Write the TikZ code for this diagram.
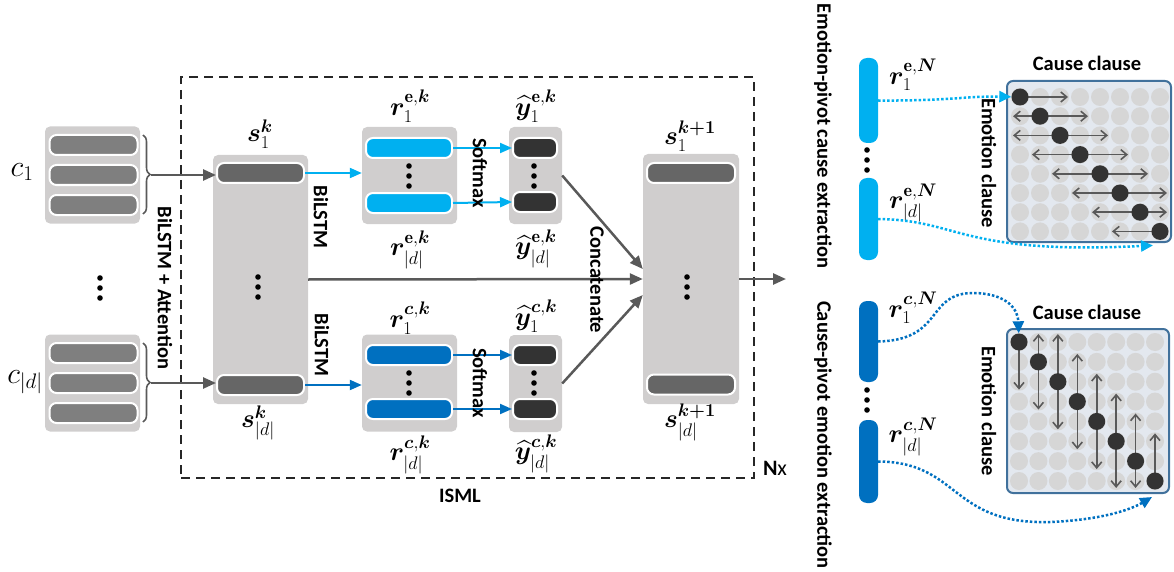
\RequirePackage{fix-cm}
\documentclass[tikz,border=0pt]{standalone}
\usepackage{amsmath,amssymb}
\usepackage{bm}
\usepackage{fontspec}
\setsansfont{Carlito}
\usepackage{xcolor}
\usepackage{tikz}
\usetikzlibrary{arrows.meta, positioning, decorations.pathreplacing}
\definecolor{blkgray}{HTML}{D0CECE}
\definecolor{cbar}{HTML}{7F7F7F}
\definecolor{sbar}{HTML}{666666}
\definecolor{ybar}{HTML}{333333}
\definecolor{lblue}{HTML}{00B0F0}
\definecolor{dblue}{HTML}{0070C0}
\definecolor{arrgray}{HTML}{595959}
\definecolor{matfill}{HTML}{E3E8EF}
\definecolor{matedge}{HTML}{41719C}
\definecolor{cellgray}{HTML}{D6D6D6}
\definecolor{dotblack}{HTML}{333333}
\newcommand{\threedots}[2]{\foreach \k in {-10,0,10} \fill ({#1},{#2+\k}) circle (2.8pt);}

\begin{document}
\begin{tikzpicture}[x=1pt, y=-1pt,
  blk/.style={fill=blkgray, rounded corners=5pt, inner sep=0pt},
  bar/.style={draw=white, line width=2pt, rounded corners=7pt, inner sep=0pt, minimum height=20pt},
  mlab/.style={font=\fontsize{26}{28}\selectfont, inner sep=0pt},
  txt/.style={font=\sffamily\bfseries\fontsize{20.5}{22}\selectfont, inner sep=0pt},
  arr/.style={draw=arrgray, line width=2.5pt, -{Triangle[length=13pt, width=11pt]}},
  barr/.style={line width=2pt, -{Triangle[length=12pt, width=10pt]}},
  pill/.style={rounded corners=8pt, inner sep=0pt, minimum width=19pt},
  bigdot/.style={circle, fill=dotblack, inner sep=0pt, minimum size=17pt},
  marr/.style={draw=arrgray, line width=1.6pt, -{Straight Barb[length=6pt, width=10pt]}},
  dotarr/.style={line width=2.5pt, dash pattern=on 2.5pt off 2pt, -{Triangle[length=12pt, width=11pt]}}
]
\useasboundingbox (0,0) rectangle (1174,572);

% ISML box
\node[draw=black!85, line width=2.5pt, dash pattern=on 9pt off 6pt, minimum width=573pt, minimum height=401pt, inner sep=0pt] (isml) at (467.5,277.5) {};
\node[txt] (ismllab) at (460,496) {ISML};
\node[font=\sffamily\fontsize{22}{24}\selectfont, inner sep=0pt] (nx) at (775,468) {\textbf{N}x};

% clause encoder
\node[blk, minimum width=95pt, minimum height=249pt] (sblk) at (260.5,279.5) {};
\node[bar, fill=sbar, minimum width=87pt] (s1) at (260.5,173) {};
\node[bar, fill=sbar, minimum width=87pt] (sd) at (260.5,385) {};
\node[mlab] (s1lab) at (260,134) {$\bm{s}_1^{\bm{k}}$};
\node[mlab] (sdlab) at (258,423) {$\bm{s}_{|d|}^{\bm{k}}$};
\threedots{258}{287}

\foreach \g/\yc/\tgt in {1/175/s1, 2/383/sd} {
  \node[blk, minimum width=95pt, minimum height=97pt] (cg\g) at (92.5,\yc) {};
  \foreach \b/\dy in {1/-30, 2/0, 3/30}
    \node[bar, fill=cbar, minimum width=88pt] (c\g\b) at (93.5,\yc+\dy) {};
  \draw[arrgray, line width=1.6pt, decorate, decoration={brace, amplitude=7pt}] (143,\yc-40) -- (143,\yc+39);
  \coordinate (bt\g) at (151,\yc);
  \draw[arr] (bt\g) -- (bt\g -| \tgt.west);
}
\node[mlab, font=\fontsize{30}{32}\selectfont] (cl1) at (22,172) {$c_1$};
\node[mlab, font=\fontsize{30}{32}\selectfont] (cld) at (25,382) {$c_{|d|}$};
\threedots{100}{288}
\node[txt, rotate=-90] (att) at (165,288) {BiLSTM + Attention};

% emotion / cause branches
\node[blk, minimum width=95pt, minimum height=97pt] (reblk) at (409.5,175.5) {};
\node[bar, fill=lblue, minimum width=86pt] (re1) at (409,148) {};
\node[bar, fill=lblue, minimum width=86pt] (re2) at (409,203) {};
\node[mlab] (re1lab) at (410,106) {$\bm{r}_1^{\mathbf{e},\bm{k}}$};
\node[mlab] (re2lab) at (410,250) {$\bm{r}_{|d|}^{\mathbf{e},\bm{k}}$};
\threedots{409}{176}

\node[blk, minimum width=95pt, minimum height=97pt] (rcblk) at (409.5,383) {};
\node[bar, fill=dblue, minimum width=86pt] (rc1) at (409,355) {};
\node[bar, fill=dblue, minimum width=86pt] (rc2) at (409,409) {};
\node[mlab] (rc1lab) at (410,318) {$\bm{r}_1^{\bm{c},\bm{k}}$};
\node[mlab] (rc2lab) at (410,455) {$\bm{r}_{|d|}^{\bm{c},\bm{k}}$};
\threedots{409}{383}

\node[blk, minimum width=53pt, minimum height=97pt] (yeblk) at (535.5,175.5) {};
\node[bar, fill=ybar, minimum width=44pt] (ye1) at (535,148) {};
\node[bar, fill=ybar, minimum width=44pt] (ye2) at (535,202) {};
\node[mlab] (ye1lab) at (536,106) {$\widehat{\bm{y}}_1^{\mathbf{e},\bm{k}}$};
\node[mlab] (ye2lab) at (536,249) {$\widehat{\bm{y}}_{|d|}^{\mathbf{e},\bm{k}}$};
\threedots{534}{176}

\node[blk, minimum width=53pt, minimum height=97pt] (ycblk) at (535.5,383.5) {};
\node[bar, fill=ybar, minimum width=44pt] (yc1) at (535,355) {};
\node[bar, fill=ybar, minimum width=44pt] (yc2) at (535,409) {};
\node[mlab] (yc1lab) at (536,316) {$\widehat{\bm{y}}_1^{\bm{c},\bm{k}}$};
\node[mlab] (yc2lab) at (536,454) {$\widehat{\bm{y}}_{|d|}^{\bm{c},\bm{k}}$};
\threedots{534}{383}

\node[blk, minimum width=96pt, minimum height=250pt] (snblk) at (691,279) {};
\node[bar, fill=sbar, minimum width=88pt] (sn1) at (691,173) {};
\node[bar, fill=sbar, minimum width=88pt] (snd) at (691,384.5) {};
\node[mlab] (sn1lab) at (690,136) {$\bm{s}_1^{\bm{k+1}}$};
\node[mlab] (sndlab) at (690,422) {$\bm{s}_{|d|}^{\bm{k+1}}$};
\threedots{687}{287}

\draw[barr, lblue] (s1.east) -- (s1.east -| reblk.west);
\draw[barr, dblue] (sd.east) -- (sd.east -| rcblk.west);
\foreach \b in {1,2} {
  \draw[barr, lblue] (re\b.east) -- (ye\b.west);
  \draw[barr, dblue] (rc\b.east) -- (yc\b.west);
}
\draw[arr] (sblk.east) -- (snblk.west);
\draw[arr] (yeblk.east) -- ([yshift=10pt]snblk.west);
\draw[arr] (ycblk.east) -- ([yshift=-16pt]snblk.west);
\coordinate (out) at (786,279);
\draw[arr] (snblk.east) -- (out);

\node[txt, rotate=-90] (bil1) at (321,217) {BiLSTM};
\node[txt, rotate=-90] (bil2) at (322,345) {BiLSTM};
\node[txt, rotate=-90] (smx1) at (480,173) {Softmax};
\node[txt, rotate=-90] (smx2) at (480,383) {Softmax};
\node[txt, rotate=-90] (cat) at (597,280) {Concatenate};

% emotion-pivot cause extraction
\node[txt, rotate=-90] (epce) at (823,136) {Emotion-pivot cause extraction};
\node[pill, fill=lblue, minimum height=85pt] (ren1) at (868.5,100.5) {};
\node[pill, fill=lblue, minimum height=82pt] (ren2) at (868.5,219) {};
\node[mlab] (ren1lab) at (913,75) {$\bm{r}_1^{\mathbf{e},\bm{N}}$};
\node[mlab] (ren2lab) at (913,203) {$\bm{r}_{|d|}^{\mathbf{e},\bm{N}}$};
\threedots{867}{160}

\node[draw=matedge, fill=matfill, line width=2pt, rounded corners=6pt, minimum width=164pt, minimum height=161pt, inner sep=0pt] (mat1) at (1089,161.5) {};
\node[txt] (cc1) at (1087,63) {Cause clause};
\node[txt, rotate=-90] (ec1) at (989,163) {Emotion clause};
\foreach \i in {0,...,7}
  \foreach \j in {0,...,7}
    \fill[cellgray] (1020+20*\j, 97+19.2*\i) circle (9pt);
\foreach \i in {0,...,7} {
  \pgfmathsetmacro{\ey}{97+19.2*\i}
  \pgfmathsetmacro{\ex}{1020+20*\i}
  \pgfmathsetmacro{\lx}{1020+20*max(\i-2.4,-0.35)}
  \pgfmathsetmacro{\rx}{1020+20*min(\i+2.4,7.35)}
  \ifnum\i>0 \draw[marr] (\ex,\ey) -- (\lx,\ey); \fi
  \ifnum\i<7 \draw[marr] (\ex,\ey) -- (\rx,\ey); \fi
  \node[bigdot] (e\i) at (\ex,\ey) {};
}
\coordinate (e7tip) at ([xshift=-7pt,yshift=-14pt]e7.center);
\draw[dotarr, lblue] (ren1.east) .. controls (950,101) and (965,96) .. (e0);
\draw[dotarr, lblue] (ren2.east) .. controls (960,220) and (960,255) .. (e7tip);

% cause-pivot emotion extraction
\node[txt, rotate=-90] (cpee) at (823,435) {Cause-pivot emotion extraction};
\node[pill, fill=dblue, minimum height=81pt] (rcn1) at (868.5,341.5) {};
\node[pill, fill=dblue, minimum height=83pt] (rcn2) at (868.5,461.5) {};
\node[mlab] (rcn1lab) at (913,308) {$\bm{r}_1^{\bm{c},\bm{N}}$};
\node[mlab] (rcn2lab) at (913,437) {$\bm{r}_{|d|}^{\bm{c},\bm{N}}$};
\threedots{867}{400}

\node[draw=matedge, fill=matfill, line width=2pt, rounded corners=6pt, minimum width=162pt, minimum height=164pt, inner sep=0pt] (mat2) at (1088,411) {};
\node[txt] (cc2) at (1087,312) {Cause clause};
\node[txt, rotate=-90] (ec2) at (989,411) {Emotion clause};
\foreach \i in {0,...,7}
  \foreach \j in {0,...,7}
    \fill[cellgray] (1019+19.43*\j, 342+19.86*\i) circle (9pt);
\foreach \j in {0,...,7} {
  \pgfmathsetmacro{\cx}{1019+19.43*\j}
  \pgfmathsetmacro{\cy}{342+19.86*\j}
  \pgfmathsetmacro{\upy}{342+19.86*max(\j-2.4,-0.4)}
  \pgfmathsetmacro{\dny}{342+19.86*min(\j+2.4,7.35)}
  \ifnum\j>0 \draw[marr] (\cx,\cy) -- (\cx,\upy); \fi
  \ifnum\j<7 \draw[marr] (\cx,\cy) -- (\cx,\dny); \fi
  \node[bigdot] (c\j) at (\cx,\cy) {};
}
\coordinate (c7tip) at ([xshift=-3pt,yshift=-16pt]c7.center);
\draw[dotarr, dblue] (rcn1.east) .. controls (945,340) and (925,292) .. (975,293) .. controls (1008,294) and (1018,310) .. (c0);
\draw[dotarr, dblue] (rcn2.east) .. controls (960,462) and (950,525) .. (1050,522) .. controls (1100,520) and (1130,510) .. (c7tip);
\end{tikzpicture}
\end{document}
